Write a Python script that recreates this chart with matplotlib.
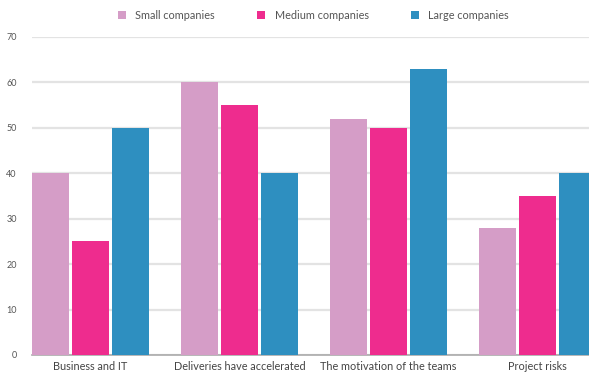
import numpy as np
import matplotlib.pyplot as plt

categories = ['Business and IT', 'Deliveries have accelerated',
              'The motivation of the teams', 'Project risks']
small = [40, 60, 52, 28]
medium = [25, 55, 50, 35]
large = [50, 40, 63, 40]
series_names = ['Small companies', 'Medium companies', 'Large companies']
colors = ['#D59DC7', '#EE2C8E', '#2E8FC0']

plt.rcParams['font.family'] = ['Lato', 'DejaVu Sans']

fig = plt.figure(figsize=(5.89, 3.74), dpi=100)
ax = fig.add_axes([32 / 589, 19 / 374, 1 - 32 / 589, (355 - 37) / 374])

x = np.arange(len(categories))
width = 0.248
offset = 0.268
for i, (vals, name) in enumerate(zip([small, medium, large], series_names)):
    ax.bar(x + (i - 1) * offset, vals, width, color=colors[i], label=name, zorder=3)

ax.set_ylim(0, 70)
ax.set_xlim(-0.393, (589 - 90.5) / 149)
ax.set_yticks(range(0, 71, 10))
ax.yaxis.grid(True, color='#e3e3e3', linewidth=1.6, zorder=0)
ax.tick_params(axis='y', length=0, pad=11, labelsize=6.5, labelcolor='#555555')

ax.set_xticks(x)
ax.set_xticklabels(categories)
ax.tick_params(axis='x', length=0, pad=4, labelsize=7.8, labelcolor='#444444')

for s in ['top', 'right', 'left']:
    ax.spines[s].set_visible(False)
ax.spines['bottom'].set_color('#aaaaaa')
ax.spines['bottom'].set_linewidth(1.2)

fig.legend(loc='upper center', bbox_to_anchor=(0.532, 1.0), ncol=3, frameon=False,
           fontsize=7.8, handlelength=0.75, handleheight=0.75, columnspacing=3.9,
           handletextpad=0.85, labelcolor='#555555')

fig.savefig('out.png', dpi=100)
